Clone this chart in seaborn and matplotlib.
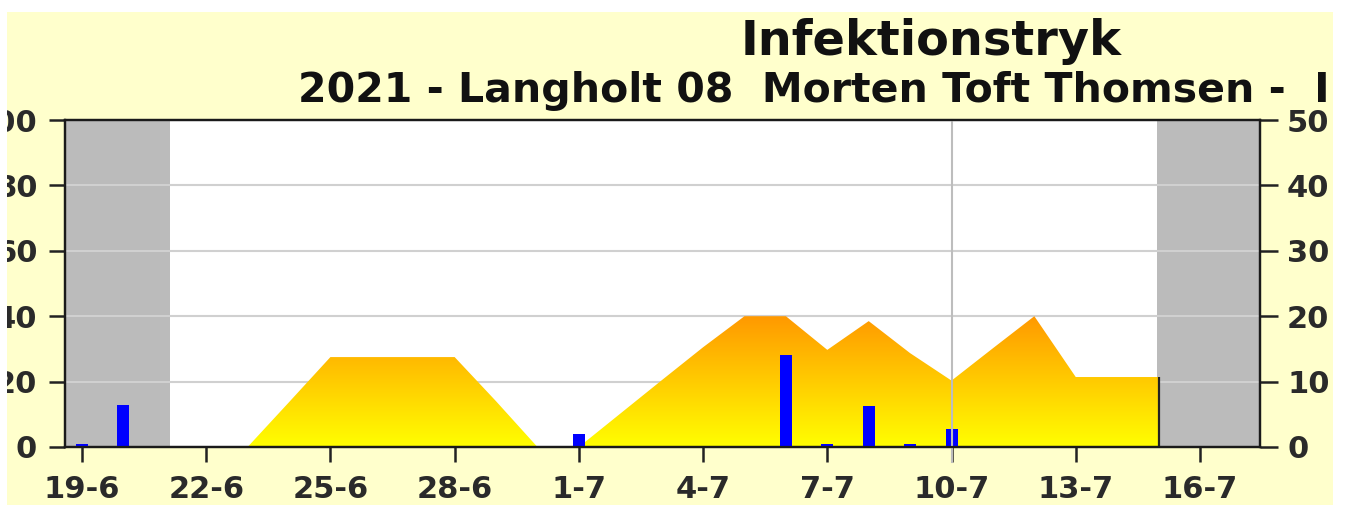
import numpy as np
import matplotlib
matplotlib.use("Agg")
import matplotlib.pyplot as plt
import seaborn as sns
from matplotlib.colors import LinearSegmentedColormap
from matplotlib.patches import Polygon, Rectangle

# ---------------- data ----------------
days = ["19-6", "20-6", "21-6", "22-6", "23-6", "24-6", "25-6", "26-6", "27-6",
        "28-6", "29-6", "30-6", "1-7", "2-7", "3-7", "4-7", "5-7", "6-7", "7-7",
        "8-7", "9-7", "10-7", "11-7", "12-7", "13-7", "14-7", "15-7", "16-7"]
# infection pressure (left axis), days 19-6 .. 15-7
infection = [0, 0, 0, 0, 0, 13.7, 27.5, 27.5, 27.5, 27.5, 14.0, 0, 0, 10.2,
             20.4, 30.5, 40.0, 40.0, 29.7, 38.5, 28.7, 20.3, 30.2, 40.0, 21.4,
             21.4, 21.4]
# precipitation (right axis)
rain = [0.5, 6.4, 0, 0, 0, 0, 0, 0, 0, 0, 0, 0, 2.0, 0, 0, 0, 0, 14.0, 0.5,
        6.2, 0.5, 2.7, 0, 0, 0, 0, 0, 0]
left_ticks = [0, 20, 40, 60, 80, 100]
right_ticks = [0, 10, 20, 30, 40, 50]
tick_days = days[::3]
title = "Infektionstryk"
subtitle = "2021 - Langholt 08  Morten Toft Thomsen -  I"
today = "10-7"
season_start = 2.13
season_end = 25.97

# ---------------- figure ----------------
W, H = 1347, 505
fig = plt.figure(figsize=(W / 100, H / 100), dpi=100, facecolor="white")
plt.rcParams["font.family"] = ["DejaVu Sans"]

fig.patches.append(Rectangle((7 / W, 0), (1333 - 7) / W, (H - 12) / H,
                             transform=fig.transFigure, facecolor="#FFFFCC",
                             edgecolor="none", zorder=-10))

ax = fig.add_axes([65 / W, (H - 447) / H, (1260 - 65) / W, (447 - 120) / H])
ax.set_facecolor("white")
ax2 = ax.twinx()

x_all = np.arange(len(days))
xmin, xmax = -0.41, 28.45

# bars via seaborn on the right axis
sns.barplot(x=days, y=rain, order=days, color="#0000FF", width=0.29,
            saturation=1, linewidth=0, ax=ax2, zorder=3)

# out-of-season grey panels
ax.axvspan(xmin, season_start, color="#BBBBBB", zorder=0.3, lw=0)
ax.axvspan(season_end, xmax, color="#BBBBBB", zorder=0.3, lw=0)

# gradient area
xi = x_all[:len(infection)]
verts = list(zip(xi, infection)) + [(xi[-1], 0), (xi[0], 0)]
poly = Polygon(verts, closed=True, facecolor="none", edgecolor="none",
               transform=ax.transData)
ax.add_patch(poly)
cmap = LinearSegmentedColormap.from_list("yo", ["#FFFF00", "#FF9900"])
grad = np.linspace(0, 1, 256).reshape(-1, 1)
im = ax.imshow(grad, cmap=cmap, extent=[xi[0], xi[-1], 0, max(infection)],
               origin="lower", aspect="auto", zorder=2, interpolation="bilinear")
im.set_clip_path(poly)
ax.vlines(xi[-1], 0, infection[-1], color="#222222", lw=1.6, zorder=2.5)

# today line
ti = days.index(today)
ax2.axvline(ti, ymin=-0.045, ymax=1, color="#BDBDBD", lw=1.5, zorder=4,
            clip_on=False)

# axes setup
ax.set_xlim(xmin, xmax)
ax2.set_xlim(xmin, xmax)
ax.set_ylim(0, 100)
ax2.set_ylim(0, 50)
ax.set_yticks(left_ticks)
ax2.set_yticks(right_ticks)
ax.set_xticks([days.index(d) for d in tick_days])
ax.set_xticklabels(tick_days)
ax.set_xlabel("")
ax2.set_xlabel("")
ax.set_ylabel("")
ax2.set_ylabel("")

ax.set_axisbelow(True)
ax.yaxis.grid(True, color="#D0D0D0", lw=1.5)
ax.xaxis.grid(False)
ax2.grid(False)

lab_color = "#2A2A2A"
ax.tick_params(axis="x", direction="out", length=10.8, width=1.8,
               color="#222222", pad=9, labelsize=22, labelcolor=lab_color)
ax.tick_params(axis="y", direction="out", length=11.5, width=1.8,
               color="#222222", pad=8.5, labelsize=22, labelcolor=lab_color)
ax2.tick_params(axis="y", direction="out", length=13, width=1.8,
                color="#222222", pad=6.5, labelsize=22, labelcolor=lab_color)
for lab in ax.get_xticklabels() + ax.get_yticklabels() + ax2.get_yticklabels():
    lab.set_fontweight("bold")

for t, d in zip(ax.xaxis.get_major_ticks(), tick_days):
    if d == today:
        t.tick1line.set_color("#BDBDBD")

for a in (ax, ax2):
    for s in a.spines.values():
        s.set_color("#1A1A1A")
        s.set_linewidth(1.6)
        s.set_zorder(5)
ax2.patch.set_visible(False)

fig.text(931 / W, 1 - 55 / H, title, ha="center", va="baseline",
         fontsize=34.5, fontweight="bold", color="#111111")
fig.text(298 / W, 1 - 102 / H, subtitle, ha="left", va="baseline",
         fontsize=29.5, fontweight="bold", color="#111111")

# white margins of the cropped picture
for rect in [(0, 0, 7 / W, 1), (1333 / W, 0, 14 / W, 1),
             (0, (H - 12) / H, 1, 12 / H)]:
    fig.patches.append(Rectangle(rect[:2], rect[2], rect[3],
                                 transform=fig.transFigure, facecolor="white",
                                 edgecolor="none", zorder=10))

fig.savefig("out.png", dpi=100, facecolor="white")
